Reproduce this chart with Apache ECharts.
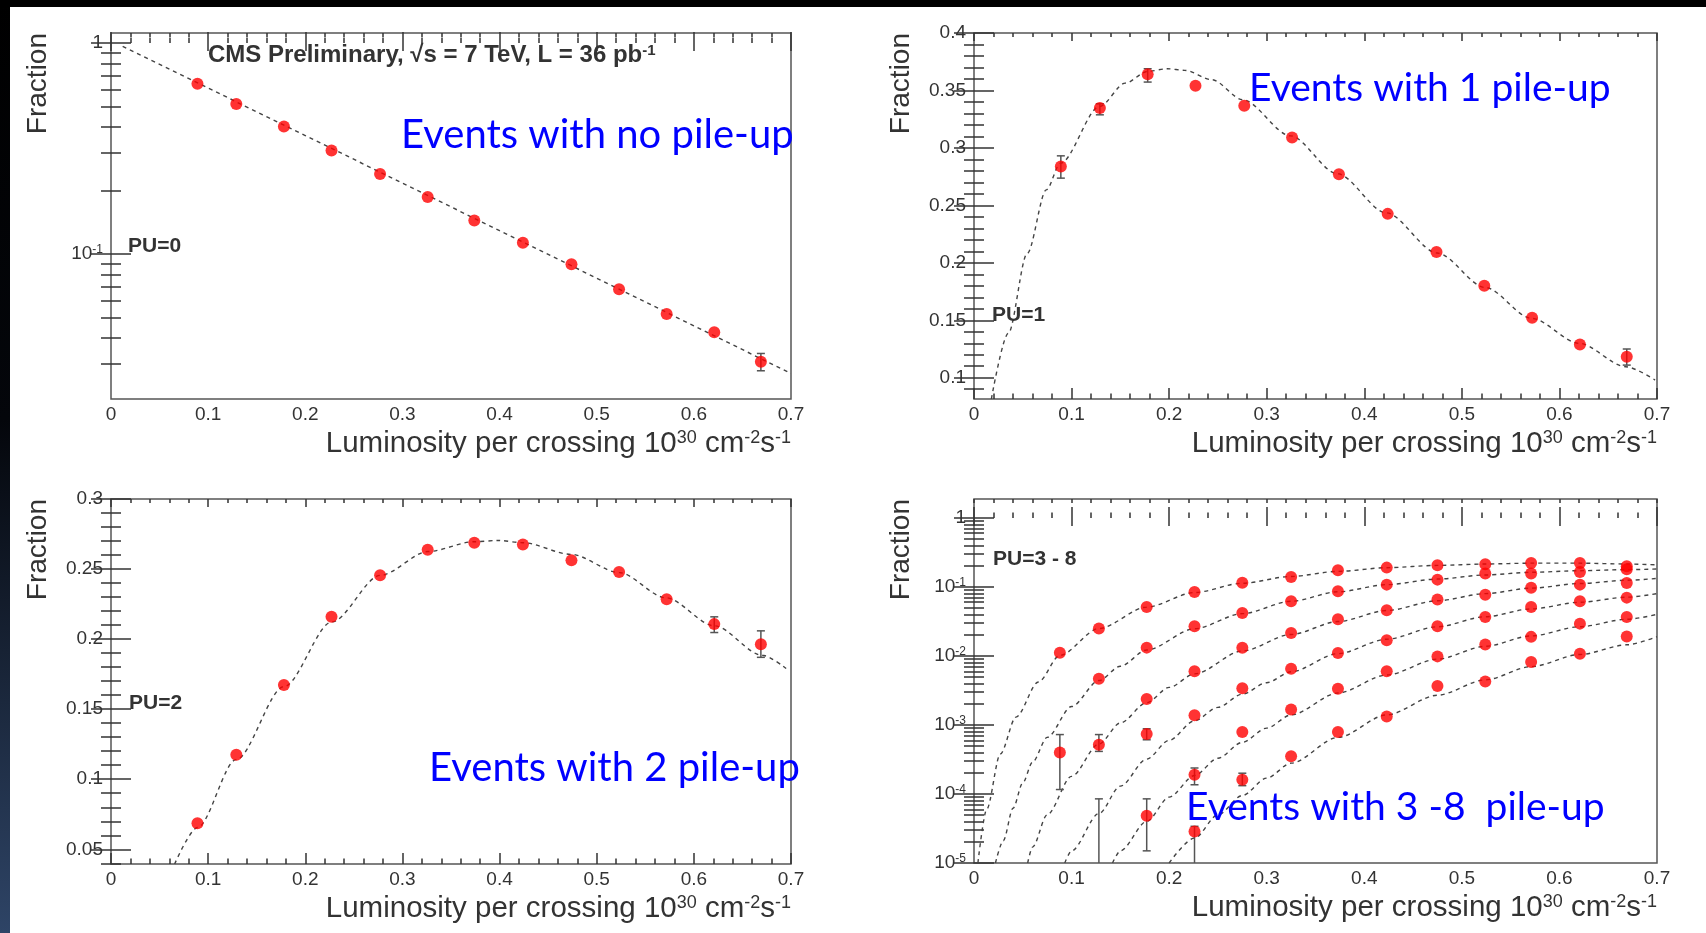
<!DOCTYPE html>
<html>
<head>
<meta charset="utf-8">
<script src="https://cdn.jsdelivr.net/npm/echarts@6/dist/echarts.min.js"></script>
<style>
  html, body { margin: 0; padding: 0; background: #fff; }
  #chart { width: 1706px; height: 933px; }
</style>
</head>
<body>
<div id="chart"></div>
<script>
// ---- data ----
var lumiX = [0.089, 0.129, 0.178, 0.227, 0.277, 0.326, 0.374, 0.424, 0.474, 0.523, 0.572, 0.621, 0.669];
var fracPU0 = [0.641, 0.513, 0.402, 0.309, 0.239, 0.186, 0.144, 0.1128, 0.0893, 0.068, 0.0519, 0.0425, 0.0308];
var fracPU1 = [0.2838, 0.3347, 0.364, 0.3541, 0.3367, 0.3091, 0.2771, 0.2426, 0.2095, 0.1801, 0.1523, 0.129, 0.1183];
var fracPU2 = [0.0685, 0.1175, 0.1673, 0.2159, 0.2455, 0.2637, 0.2687, 0.2675, 0.2562, 0.2479, 0.2284, 0.2107, 0.1964];

var lumiX4 = [0.088, 0.128, 0.177, 0.226, 0.275, 0.325, 0.373, 0.423, 0.475, 0.524, 0.571, 0.621, 0.669];
var fracPU3 = [0.0111, 0.0249, 0.0513, 0.0846, 0.1154, 0.1396, 0.174, 0.1905, 0.2056, 0.213, 0.223, 0.223, 0.199];
var fracPU4 = [4.0e-4, 0.00469, 0.0132, 0.0269, 0.042, 0.0618, 0.0863, 0.108, 0.1276, 0.156, 0.156, 0.165, 0.18];
var fracPU5 = [null, 5.18e-4, 0.00238, 0.00598, 0.0131, 0.0215, 0.0339, 0.0458, 0.066, 0.0773, 0.0977, 0.108, 0.1143];
var fracPU6 = [null, null, 7.41e-4, 0.00138, 0.0034, 0.00655, 0.01105, 0.01683, 0.0269, 0.0367, 0.0513, 0.0618, 0.07];
var fracPU7 = [null, null, 4.85e-5, 1.9e-4, 7.92e-4, 0.00167, 0.00336, 0.00598, 0.00986, 0.0146, 0.0189, 0.0294, 0.0367];
var fracPU8 = [null, null, null, 2.87e-5, 1.61e-4, 3.51e-4, 7.92e-4, 0.00133, 0.00367, 0.00428, 0.00818, 0.0108, 0.0192];

// error bars: [x, low, high]
var errPU0 = [[0.669, 0.0279, 0.0337]];
var errPU1 = [[0.089, 0.2737, 0.2931], [0.129, 0.3288, 0.3384], [0.178, 0.3573, 0.3689], [0.669, 0.111, 0.125]];
var errPU2 = [[0.621, 0.2047, 0.2159], [0.669, 0.187, 0.2059]];
var errPU38 = [[0.088, 1.16e-4, 7.26e-4], [0.128, 4.14e-4, 7.26e-4], [0.128, 1e-6, 8.5e-5], [0.177, 6.1e-4, 8.8e-4],
  [0.177, 1.5e-5, 8.5e-5], [0.226, 1.36e-4, 2.38e-4], [0.226, 1e-6, 3.4e-5], [0.275, 1.32e-4, 2.0e-4]];

// fitted curves (dashed)
var fitPU0 = [[0.012, 0.964], [0.1, 0.611], [0.2, 0.364], [0.3, 0.2165], [0.4, 0.1288], [0.5, 0.0767], [0.6, 0.0456], [0.7, 0.0271]];
var fitPU1 = [[0.0178, 0.0815], [0.0351, 0.1386], [0.0546, 0.2083], [0.0741, 0.2635], [0.0886, 0.2867], [0.1288, 0.3361],
  [0.155, 0.3564], [0.178, 0.3666], [0.198, 0.3689], [0.216, 0.3675], [0.244, 0.3593], [0.2754, 0.3419], [0.3244, 0.3105],
  [0.3724, 0.2775], [0.4225, 0.2435], [0.4749, 0.2085], [0.524, 0.1785], [0.5713, 0.1517], [0.6204, 0.1299], [0.6678, 0.1096], [0.698, 0.098]];
var fitPU2 = [[0.0655, 0.0395], [0.089, 0.0655], [0.1288, 0.114], [0.178, 0.1661], [0.2274, 0.2123], [0.2772, 0.2455],
  [0.3265, 0.2625], [0.3735, 0.2695], [0.3987, 0.2704], [0.424, 0.2688], [0.4737, 0.2605], [0.523, 0.2475], [0.5712, 0.2295],
  [0.6211, 0.2095], [0.6704, 0.1885], [0.695, 0.179]];
var fitPU3 = [[0.004, 1e-5], [0.013, 6e-5], [0.027, 3.8e-4], [0.043, 1.3e-3], [0.066, 4.2e-3], [0.088, 0.0102], [0.128, 0.025],
  [0.177, 0.051], [0.226, 0.083], [0.275, 0.113], [0.325, 0.142], [0.373, 0.168], [0.423, 0.19], [0.475, 0.205], [0.524, 0.215],
  [0.571, 0.221], [0.621, 0.221], [0.669, 0.215], [0.7, 0.209]];
var fitPU4 = [[0.022, 1e-5], [0.03, 2.1e-5], [0.04, 6.2e-5], [0.05, 1.45e-4], [0.06, 2.9e-4], [0.075, 6.6e-4], [0.1, 1.85e-3],
  [0.128, 4.4e-3], [0.15, 7.1e-3], [0.177, 0.0122], [0.226, 0.0248], [0.275, 0.041], [0.325, 0.062], [0.373, 0.085],
  [0.423, 0.108], [0.475, 0.13], [0.524, 0.149], [0.571, 0.163], [0.621, 0.172], [0.669, 0.178], [0.7, 0.182]];
var fitPU5 = [[0.055, 1e-5], [0.06, 1.7e-5], [0.075, 5e-5], [0.1, 1.8e-4], [0.128, 5.3e-4], [0.15, 1.07e-3], [0.177, 2.1e-3],
  [0.2, 3.5e-3], [0.226, 5.5e-3], [0.275, 0.0118], [0.325, 0.0205], [0.373, 0.0315], [0.423, 0.0455], [0.475, 0.063],
  [0.524, 0.08], [0.571, 0.096], [0.621, 0.112], [0.669, 0.125], [0.7, 0.133]];
var fitPU6 = [[0.093, 1e-5], [0.1, 1.5e-5], [0.128, 5.2e-5], [0.15, 1.3e-4], [0.177, 3.2e-4], [0.2, 6e-4], [0.226, 1.15e-3],
  [0.25, 1.8e-3], [0.275, 2.8e-3], [0.3, 4.1e-3], [0.325, 5.9e-3], [0.373, 0.0108], [0.423, 0.0175], [0.475, 0.0265],
  [0.524, 0.037], [0.571, 0.048], [0.621, 0.06], [0.669, 0.071], [0.7, 0.08]];
var fitPU7 = [[0.142, 1e-5], [0.15, 1.5e-5], [0.177, 4e-5], [0.2, 9e-5], [0.226, 1.85e-4], [0.25, 3.3e-4], [0.275, 5.6e-4],
  [0.3, 9e-4], [0.325, 1.4e-3], [0.373, 2.9e-3], [0.423, 5.3e-3], [0.475, 9e-3], [0.524, 0.0138], [0.571, 0.0195],
  [0.621, 0.0265], [0.669, 0.034], [0.7, 0.04]];
var fitPU8 = [[0.2, 1e-5], [0.226, 2.3e-5], [0.25, 5e-5], [0.275, 9.5e-5], [0.3, 1.7e-4], [0.325, 2.8e-4], [0.373, 6.6e-4],
  [0.423, 1.4e-3], [0.475, 2.7e-3], [0.524, 4.5e-3], [0.571, 7e-3], [0.621, 0.0105], [0.669, 0.0145], [0.7, 0.019]];

// tick labels
var xMajor = [0, 0.1, 0.2, 0.3, 0.4, 0.5, 0.6, 0.7];
var yMajor1 = [0.1, 1];
var yMajor2 = [0.1, 0.15, 0.2, 0.25, 0.3, 0.35, 0.4];
var yMajor3 = [0.05, 0.1, 0.15, 0.2, 0.25, 0.3];
var yMajor4 = [1e-5, 1e-4, 1e-3, 1e-2, 1e-1, 1];

// ---- helpers for axis decoration ----
function steps(a, b, d) {
  var out = [];
  for (var v = a; v <= b + d / 10; v += d) out.push(+v.toFixed(4));
  return out;
}
function logMinor(lo, hi) {
  var out = [];
  for (var e = -6; e <= 1; e++) {
    for (var m = 2; m <= 9; m++) {
      var v = m * Math.pow(10, e);
      if (v >= lo && v <= hi) out.push(v);
    }
  }
  return out;
}

var ink = '#333';
var rootFont = '"Liberation Sans", Arial, Helvetica, sans-serif';

var frames = [
  { left: 111, top: 33, width: 680, height: 366 },
  { left: 974, top: 33, width: 683, height: 366 },
  { left: 111, top: 499, width: 680, height: 365 },
  { left: 974, top: 499, width: 683, height: 364 }
];
var yConf = [
  { log: true, min: 0.0205, max: 1.115, major: yMajor1, minor: logMinor(0.0205, 1.115) },
  { log: false, min: 0.0815, max: 0.4, major: yMajor2, minor: steps(0.09, 0.4, 0.01) },
  { log: false, min: 0.0395, max: 0.3, major: yMajor3, minor: steps(0.04, 0.3, 0.01) },
  { log: true, min: 1e-5, max: 1.88, major: yMajor4, minor: logMinor(1e-5, 1.88) }
];
var xMinor = steps(0, 0.7, 0.02);

var grids = [], xAxes = [], yAxes = [];

frames.forEach(function(f, g) {
  grids.push({ left: f.left, top: f.top, width: f.width, height: f.height, show: true,
    borderColor: '#555', borderWidth: 1.5, backgroundColor: '#fff' });

  // x: data axis + 4 decoration axes (bottom/top, major/minor)
  xAxes.push({ gridIndex: g, type: 'value', min: 0, max: 0.7, show: false });
  [['bottom', xMajor, 11, true], ['bottom', xMinor, 5.5, false], ['top', xMajor, 8, false], ['top', xMinor, 4, false]]
    .forEach(function(d) {
      xAxes.push({
        gridIndex: g, type: 'value', min: 0, max: 0.7, position: d[0],
        axisLine: { show: false }, splitLine: { show: false },
        axisTick: { show: true, inside: true, length: d[2], customValues: d[1], lineStyle: { color: ink, width: 1.5 } },
        axisLabel: d[3] ? {
          show: true, customValues: xMajor, margin: 6, color: ink, fontSize: 19, fontFamily: rootFont,
          formatter: function(v) { return v === 0 ? '0' : v.toFixed(1); }
        } : { show: false }
      });
    });

  // y: data axis + 4 decoration axes (left/right, major/minor)
  var c = yConf[g];
  var t = c.log ? function(v) { return Math.log10(v); } : function(v) { return v; };
  yAxes.push({ gridIndex: g, type: c.log ? 'log' : 'value', logBase: 10, min: c.min, max: c.max, show: false });
  [['left', c.major, 20, true], ['left', c.minor, 10, false], ['right', c.major, 20, false], ['right', c.minor, 10, false]]
    .forEach(function(d) {
      yAxes.push({
        gridIndex: g, type: 'value', min: t(c.min), max: t(c.max), position: d[0],
        axisLine: { show: false }, splitLine: { show: false },
        axisTick: { show: true, inside: true, length: d[2], customValues: d[1].map(t), lineStyle: { color: ink, width: 1.5 } },
        axisLabel: d[3] ? {
          show: true, customValues: c.major.map(t), margin: 8, color: ink, fontSize: 19, fontFamily: rootFont,
          formatter: c.log ? function(v) {
            var e = Math.round(v);
            return e === 0 ? '1' : '10{sup|' + e + '}';
          } : function(v) { return String(+v.toFixed(2)); },
          rich: { sup: { fontSize: 12, verticalAlign: 'top', color: ink, fontFamily: rootFont, padding: [0, 0, 8, 0] } }
        } : { show: false }
      });
    });
});

// ---- series ----
function fitLine(g, pts, smooth) {
  return {
    type: 'line', xAxisIndex: g * 5, yAxisIndex: g * 5, data: pts, showSymbol: false, silent: true,
    smooth: smooth, smoothMonotone: 'x', z: 2,
    lineStyle: { color: '#444', width: 1.4, type: [4, 4] }
  };
}
function dots(g, xs, ys) {
  var pts = [];
  xs.forEach(function(x, i) { if (ys[i] != null) pts.push([x, ys[i]]); });
  return {
    type: 'scatter', xAxisIndex: g * 5, yAxisIndex: g * 5, data: pts, symbolSize: 12, z: 4,
    itemStyle: { color: '#ff0000' }
  };
}
function errBars(g, rows) {
  return {
    type: 'custom', xAxisIndex: g * 5, yAxisIndex: g * 5, data: rows, clip: true, z: 3, silent: true,
    encode: { x: 0, y: [1, 2] },
    renderItem: function(params, api) {
      var lo = api.coord([api.value(0), api.value(1)]);
      var hi = api.coord([api.value(0), api.value(2)]);
      var st = { stroke: '#555', lineWidth: 1.5 };
      return {
        type: 'group', children: [
          { type: 'line', shape: { x1: lo[0], y1: lo[1], x2: hi[0], y2: hi[1] }, style: st },
          { type: 'line', shape: { x1: hi[0] - 4, y1: hi[1], x2: hi[0] + 4, y2: hi[1] }, style: st },
          { type: 'line', shape: { x1: lo[0] - 4, y1: lo[1], x2: lo[0] + 4, y2: lo[1] }, style: st }
        ]
      };
    }
  };
}

var series = [
  fitLine(0, fitPU0, false), errBars(0, errPU0), dots(0, lumiX, fracPU0),
  fitLine(1, fitPU1, 0.3), errBars(1, errPU1), dots(1, lumiX, fracPU1),
  fitLine(2, fitPU2, 0.3), errBars(2, errPU2), dots(2, lumiX, fracPU2),
  fitLine(3, fitPU3, 0.3), fitLine(3, fitPU4, 0.3), fitLine(3, fitPU5, 0.3),
  fitLine(3, fitPU6, 0.3), fitLine(3, fitPU7, 0.3), fitLine(3, fitPU8, 0.3),
  errBars(3, errPU38),
  dots(3, lumiX4, fracPU3), dots(3, lumiX4, fracPU4), dots(3, lumiX4, fracPU5),
  dots(3, lumiX4, fracPU6), dots(3, lumiX4, fracPU7), dots(3, lumiX4, fracPU8)
];

// ---- free texts ----
var graphics = [
  { type: 'rect', shape: { x: 0, y: 0, width: 10, height: 933 }, style: { fill: {
    type: 'linear', x: 0, y: 0, x2: 0, y2: 1,
    colorStops: [{ offset: 0, color: '#000' }, { offset: 0.45, color: '#04060b' }, { offset: 1, color: '#2e4466' }] } } },
  { type: 'rect', shape: { x: 0, y: 0, width: 1706, height: 7 }, style: { fill: '#000' } }
];
function txt(x, y, s, size, opts) {
  opts = opts || {};
  graphics.push({
    type: 'text', x: x, y: y, rotation: opts.rot || 0, z: 10,
    style: {
      text: s, fontSize: size, fontFamily: opts.family || rootFont, fontWeight: opts.bold ? 'bold' : 'normal',
      fill: opts.color || ink, align: opts.align || 'left', verticalAlign: 'middle', rich: opts.rich
    }
  });
}
var supRich = { sup: { fontSize: 18, verticalAlign: 'top', fill: ink, fontFamily: rootFont, padding: [0, 0, 11, 0] } };
frames.forEach(function(f) {
  txt(f.left - 73, f.top, 'Fraction', 28, { rot: Math.PI / 2, align: 'right' });
  txt(f.left + f.width, f.top + f.height + 45, 'Luminosity per crossing 10{sup|30} cm{sup|-2}s{sup|-1}', 29.5,
    { align: 'right', rich: supRich });
});
txt(208, 55, 'CMS Preliminary, \u221As = 7 TeV, L = 36 pb{sup|-1}', 24,
  { bold: true, rich: { sup: { fontSize: 15, fontWeight: 'bold', verticalAlign: 'top', fill: ink, padding: [0, 0, 9, 0] } } });
txt(128, 246, 'PU=0', 21, { bold: true });
txt(992, 315, 'PU=1', 21, { bold: true });
txt(129, 703, 'PU=2', 21, { bold: true });
txt(993, 559, 'PU=3 - 8', 21, { bold: true });

var blue = { family: 'Lato, "Open Sans", sans-serif', color: '#0000ff' };
txt(401, 135, 'Events with no pile-up', 40, blue);
txt(1249, 88, 'Events with 1 pile-up', 39, blue);
txt(429, 768, 'Events with 2 pile-up', 40, blue);
txt(1186, 807, 'Events with 3 -8  pile-up', 39, blue);

var chart = echarts.init(document.getElementById('chart'), null, { renderer: 'canvas' });
chart.setOption({
  animation: false,
  backgroundColor: '#fff',
  grid: grids,
  xAxis: xAxes,
  yAxis: yAxes,
  series: series,
  graphic: graphics
});
window.addEventListener('resize', function() { chart.resize(); });
</script>
</body>
</html>
